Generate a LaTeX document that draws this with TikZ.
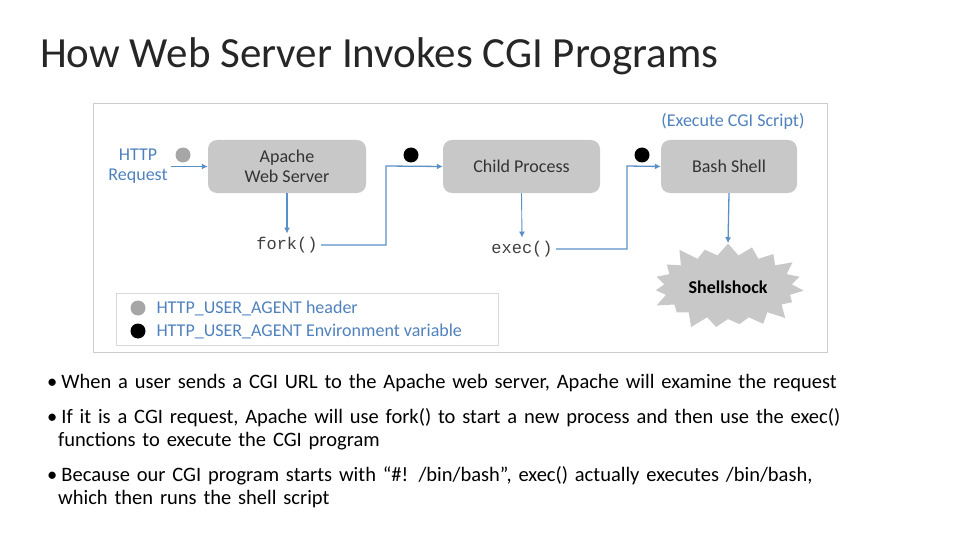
\documentclass[tikz,border=0pt]{standalone}
\usepackage{fontspec}
\setmainfont{Carlito}
\setmonofont{Liberation Mono}
\usetikzlibrary{shapes.symbols,arrows.meta}
\definecolor{bl}{HTML}{4F81BD}
\definecolor{ar}{HTML}{5B8FC7}
\definecolor{bx}{HTML}{C8C8C8}
\begin{document}
\begin{tikzpicture}[x=1pt,y=-1pt,
  box/.style={draw=none,fill=bx,rounded corners=9pt,minimum height=53pt,font=\fontsize{18}{20}\selectfont,text=black!80,align=center},
  arr/.style={draw=ar,line width=1.3pt,-{Latex[length=6pt,width=6pt]}},
  lbl/.style={font=\fontsize{18}{20}\selectfont,text=bl,align=center},
  code/.style={font=\ttfamily\fontsize{17}{19}\selectfont,text=black!75},
  bul/.style={font=\fontsize{20.5}{23}\selectfont,anchor=north west,align=left,text width=880pt,inner sep=0pt},
  dot/.style={circle,inner sep=0pt,minimum width=15pt,minimum height=11pt}]
\useasboundingbox (0,0) rectangle (960,540);
\node[anchor=base west,font=\fontsize{43}{45}\selectfont,inner sep=0pt,text=black!85] (title) at (40,68) {How Web Server Invokes CGI Programs};
\node[draw=black!20,line width=1pt,minimum width=734pt,minimum height=249pt,anchor=north west,inner sep=0pt] (frame) at (93,103) {};
\node[box,minimum width=158pt] (ap) at (287,166.5) {Apache\\Web Server};
\node[box,minimum width=157pt] (cp) at (521.5,166.5) {Child Process};
\node[box,minimum width=136pt] (bs) at (729,166.5) {Bash Shell};
\node[lbl] (req) at (138,166) {HTTP\\Request};
\node[lbl,anchor=east] (exe) at (808,121) {(Execute CGI Script)};
\node[dot,fill=black!35] (d1) at (183,155) {};
\node[dot,fill=black] (d2) at (411,155) {};
\node[dot,fill=black] (d3) at (642,155) {};
\node[code] (fork) at (287,245) {fork()};
\node[code] (exec) at (522,249) {exec()};
\node[starburst,starburst points=19,starburst point height=16pt,fill=bx,minimum width=160pt,minimum height=96pt,font=\bfseries\fontsize{18}{20}\selectfont] (ss) at (728,287) {Shellshock};
\coordinate (c1) at (386,245); \coordinate (c2) at (386,166);
\coordinate (c3) at (627,249); \coordinate (c4) at (627,166);
\draw[arr] (req.east|-ap.west) -- (ap.west);
\draw[arr] (ap.south) -- (fork.north);
\draw[arr] (fork.east) -- (c1) -- (c2) -- (cp.west);
\draw[arr,line width=0.9pt] (cp.south) -- (exec.north);
\draw[arr] (exec.east) -- (c3) -- (c4) -- (bs.west);
\draw[arr] (bs.south) -- (ss.north);
\node[draw=black!15,line width=1pt,minimum width=382pt,minimum height=52pt,anchor=north west,inner sep=0pt] (leg) at (116,293) {};
\node[dot,fill=black!35] (l1) at (138,308) {};
\node[dot,fill=black] (l2) at (138,331) {};
\node[lbl,anchor=west] (t1) at (153,308) {HTTP\_USER\_AGENT header};
\node[lbl,anchor=west] (t2) at (153,331) {HTTP\_USER\_AGENT Environment variable};
\node[bul] (b1) at (47,374) {•\hspace{4pt}When a user sends a CGI URL to the Apache web server, Apache will examine the request};
\node[bul] (b2) at (47,408) {•\hspace{4pt}If it is a CGI request, Apache will use fork() to start a new process and then use the exec()\\\hspace*{11pt}functions to execute the CGI program};
\node[bul] (b3) at (47,466) {•\hspace{4pt}Because our CGI program starts with “\#! /bin/bash”, exec() actually executes /bin/bash,\\\hspace*{11pt}which then runs the shell script};
\end{tikzpicture}
\end{document}
